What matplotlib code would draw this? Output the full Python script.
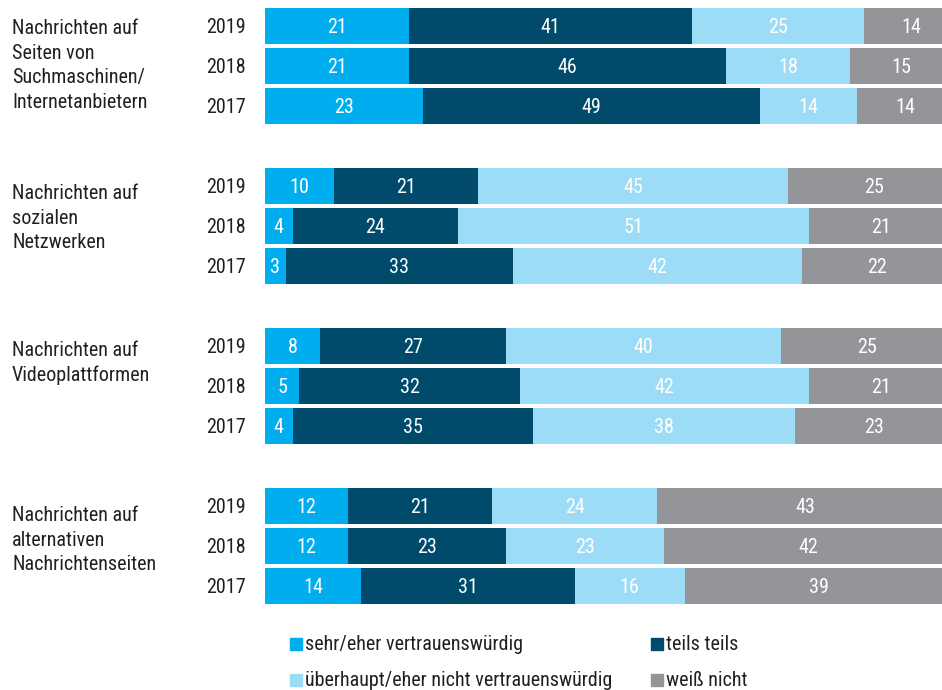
import matplotlib
matplotlib.use("Agg")
import matplotlib.pyplot as plt
from matplotlib.transforms import blended_transform_factory
from matplotlib.patches import Rectangle

plt.rcParams['font.family'] = ['Roboto Condensed', 'DejaVu Sans']

groups = ["Nachrichten auf\nSeiten von\nSuchmaschinen/\nInternetanbietern",
          "Nachrichten auf\nsozialen\nNetzwerken",
          "Nachrichten auf\nVideoplattformen",
          "Nachrichten auf\nalternativen\nNachrichtenseiten"]
years = ["2019", "2018", "2017"]
categories = ["sehr/eher vertrauenswürdig", "teils teils",
              "überhaupt/eher nicht vertrauenswürdig", "weiß nicht"]
colors = ["#00AEEF", "#004B6B", "#9DDCF7", "#939598"]

sehr = [[21, 21, 23], [10, 4, 3], [8, 5, 4], [12, 12, 14]]
teils = [[41, 46, 49], [21, 24, 33], [27, 32, 35], [21, 23, 31]]
nicht = [[25, 18, 14], [45, 51, 42], [40, 42, 38], [24, 23, 16]]
weiss = [[14, 15, 14], [25, 21, 22], [25, 21, 23], [43, 42, 39]]
series = [sehr, teils, nicht, weiss]

W, H = 942, 690
fig = plt.figure(figsize=(W / 100, H / 100), dpi=100)
ax = fig.add_axes([265 / W, 1 - 606 / H, 677 / W, 600 / H])
ax.set_xlim(0, 98.4)
ax.set_ylim(14.5, -0.5)
ax.axis('off')

txtc = "#231F20"
fs = 14.5
yt = blended_transform_factory(fig.transFigure, ax.transData)
label_top_offset = [-0.175, -0.05, -0.125, 0.0]

for g in range(len(groups)):
    for b in range(len(years)):
        y = g * 4 + b
        left = 0
        for s in range(len(series)):
            v = series[s][g][b]
            ax.barh(y, v, left=left, height=0.9, color=colors[s], edgecolor='none', clip_on=True)
            ax.text(left + v / 2, y + 0.03, str(v), ha='center', va='center',
                    color='white', fontsize=fs, clip_on=False)
            left += v
        ax.text(246 / W, y + 0.03, years[b], transform=yt, ha='right', va='center',
                color=txtc, fontsize=fs)
    ax.text(12 / W, g * 4 + label_top_offset[g], groups[g], transform=yt, ha='left', va='top',
            color=txtc, fontsize=fs, linespacing=1.38)

# legend
leg_pos = [(290, 644), (651, 644), (290, 680), (651, 680)]
for (x, y), c, lab in zip(leg_pos, colors, categories):
    fig.patches.append(Rectangle((x / W, 1 - (y + 6) / H), 12 / W, 12 / H,
                                 transform=fig.transFigure, color=c))
    fig.text((x + 15) / W, 1 - (y + 1) / H, lab, ha='left', va='center',
             color=txtc, fontsize=fs)

fig.savefig("out.png", dpi=100)
